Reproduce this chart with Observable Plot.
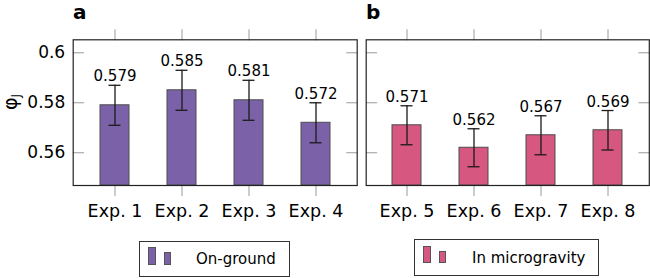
<!DOCTYPE html>
<html>
<head>
<meta charset="utf-8">
<script src="https://cdn.jsdelivr.net/npm/d3@7"></script>
<script src="https://cdn.jsdelivr.net/npm/@observablehq/plot@0.6"></script>
<style>
  body { margin: 0; background: #fff; font-family: "DejaVu Sans", sans-serif; color: #000; }
  #wrap { position: relative; width: 650px; height: 278px; overflow: hidden; background: #fff; }
  .panel { position: absolute; top: 0; }
  .title { position: absolute; top: 0px; font: bold 20px "DejaVu Sans", sans-serif; line-height: normal; }
  .ylab { position: absolute; left: 11px; top: 102px; transform: translate(-50%, -50%) rotate(-90deg); font: 19px "DejaVu Sans", sans-serif; white-space: nowrap; }
  .ylab sub { font-size: 12px; vertical-align: -3px; }
  .legend { position: absolute; box-sizing: border-box; border: 1.2px solid #333; background: #fff; }
  .sw { position: absolute; box-sizing: border-box; border: 1px solid #555; }
  .ltxt { position: absolute; top: 50%; transform: translateY(-52%); white-space: nowrap; font-family: "DejaVu Sans", sans-serif; }
</style>
</head>
<body>
<div id="wrap">
  <div id="pa" class="panel" style="left:0px"></div>
  <div id="pb" class="panel" style="left:360px"></div>
</div>
<script>
// ---- data ----
const groundLabels = ["Exp. 1", "Exp. 2", "Exp. 3", "Exp. 4"];
const groundValues = [0.579, 0.585, 0.581, 0.572];
const groundErrors = [0.008, 0.008, 0.008, 0.008];
const microLabels = ["Exp. 5", "Exp. 6", "Exp. 7", "Exp. 8"];
const microValues = [0.571, 0.562, 0.567, 0.569];
const microErrors = [0.0078, 0.0076, 0.0078, 0.0079];
const yTicks = [0.56, 0.58, 0.6];
const yDomain = [0.5469, 0.6052];
const panelTitles = ["a", "b"];
const seriesNames = ["On-ground", "In microgravity"];
const seriesColors = ["#7b62a8", "#d6577f"];
const yLabel = ["φ", "J"];

const lineShape = {
  draw(context, l) { context.moveTo(0, 0); context.lineTo(0, -l); }
};

function panel(labels, values, errors, color, opts) {
  const data = labels.map((l, i) => ({
    label: l, value: values[i], lo: values[i] - errors[i], hi: values[i] + errors[i]
  }));
  return Plot.plot({
    width: opts.width,
    height: 232,
    marginTop: 39.3,
    marginBottom: 47,
    marginLeft: opts.marginLeft,
    marginRight: opts.marginRight,
    style: { fontFamily: "DejaVu Sans", fontSize: "15px", background: "transparent", color: "#000", overflow: "visible" },
    x: { domain: labels, paddingInner: 0.57, paddingOuter: 0.39, axis: null },
    y: { domain: yDomain, axis: null },
    marks: [
      Plot.barY(data, { x: "label", y1: yDomain[0], y2: "value", fill: color, stroke: "#4d4d4d", strokeWidth: 1 }),
      Plot.ruleX(data, { x: "label", y1: "lo", y2: "hi", stroke: "#1a1a1a", strokeWidth: 1.3 }),
      Plot.tickY(data, { x: "label", y: "lo", insetLeft: 8.5, insetRight: 8.5, stroke: "#1a1a1a", strokeWidth: 1.3 }),
      Plot.tickY(data, { x: "label", y: "hi", insetLeft: 8.5, insetRight: 8.5, stroke: "#1a1a1a", strokeWidth: 1.3 }),
      Plot.text(data, { x: "label", y: "hi", text: d => d.value.toFixed(3), lineAnchor: "bottom", dy: -4, fontSize: 15, fill: "#000" }),
      Plot.axisX({ anchor: "bottom", tickSize: 11, tickPadding: 8, stroke: "#9a9a9a", fill: "#000", fontSize: 17.5, label: null }),
      Plot.axisX({ anchor: "top", tickSize: 11, tickFormat: () => "", stroke: "#9a9a9a", label: null }),
      opts.yLabels ? Plot.axisY({ anchor: "left", ticks: yTicks, tickSize: 0, tickPadding: 8, tickFormat: d => String(d), fontSize: 17, fill: "#000", label: null }) : null,
      Plot.vector(yTicks, { y: d => d, frameAnchor: "left", rotate: 90, length: 10.5, anchor: "start", shape: lineShape, stroke: "#9a9a9a", strokeWidth: 1 }),
      Plot.vector(yTicks, { y: d => d, frameAnchor: "right", rotate: -90, length: 10.5, anchor: "start", shape: lineShape, stroke: "#9a9a9a", strokeWidth: 1 }),
      Plot.frame({ stroke: "#222", strokeWidth: 1.2 })
    ]
  });
}

document.getElementById("pa").append(panel(groundLabels, groundValues, groundErrors, seriesColors[0],
  { width: 360, marginLeft: 72.7, marginRight: 3.3, yLabels: true }));
document.getElementById("pb").append(panel(microLabels, microValues, microErrors, seriesColors[1],
  { width: 290, marginLeft: 5.7, marginRight: 1.2, yLabels: false }));

const wrap = document.getElementById("wrap");

// panel titles
[[panelTitles[0], 73], [panelTitles[1], 366]].forEach(([t, left]) => {
  const d = document.createElement("div");
  d.className = "title"; d.style.left = left + "px"; d.textContent = t;
  wrap.append(d);
});

// y label
const yl = document.createElement("div");
yl.className = "ylab";
yl.innerHTML = yLabel[0] + "<sub>" + yLabel[1] + "</sub>";
wrap.append(yl);

// legends
const legendBoxes = [
  { left: 139.3, top: 240.7, width: 151, height: 36, fontSize: 15, textLeft: 55.7 },
  { left: 414.3, top: 239.3, width: 184.4, height: 36.7, fontSize: 15, textLeft: 56.7 }
];
legendBoxes.forEach((b, i) => {
  const box = document.createElement("div");
  box.className = "legend";
  Object.assign(box.style, { left: b.left + "px", top: b.top + "px", width: b.width + "px", height: b.height + "px" });
  const s1 = document.createElement("div");
  s1.className = "sw";
  Object.assign(s1.style, { left: "8px", top: "5.5px", width: "7.4px", height: "17.6px", background: seriesColors[i] });
  const s2 = document.createElement("div");
  s2.className = "sw";
  Object.assign(s2.style, { left: "23.5px", top: "10.5px", width: "7.2px", height: "12.6px", background: seriesColors[i] });
  const t = document.createElement("div");
  t.className = "ltxt";
  Object.assign(t.style, { left: b.textLeft + "px", fontSize: b.fontSize + "px" });
  t.textContent = seriesNames[i];
  box.append(s1, s2, t);
  wrap.append(box);
});
</script>
</body>
</html>
